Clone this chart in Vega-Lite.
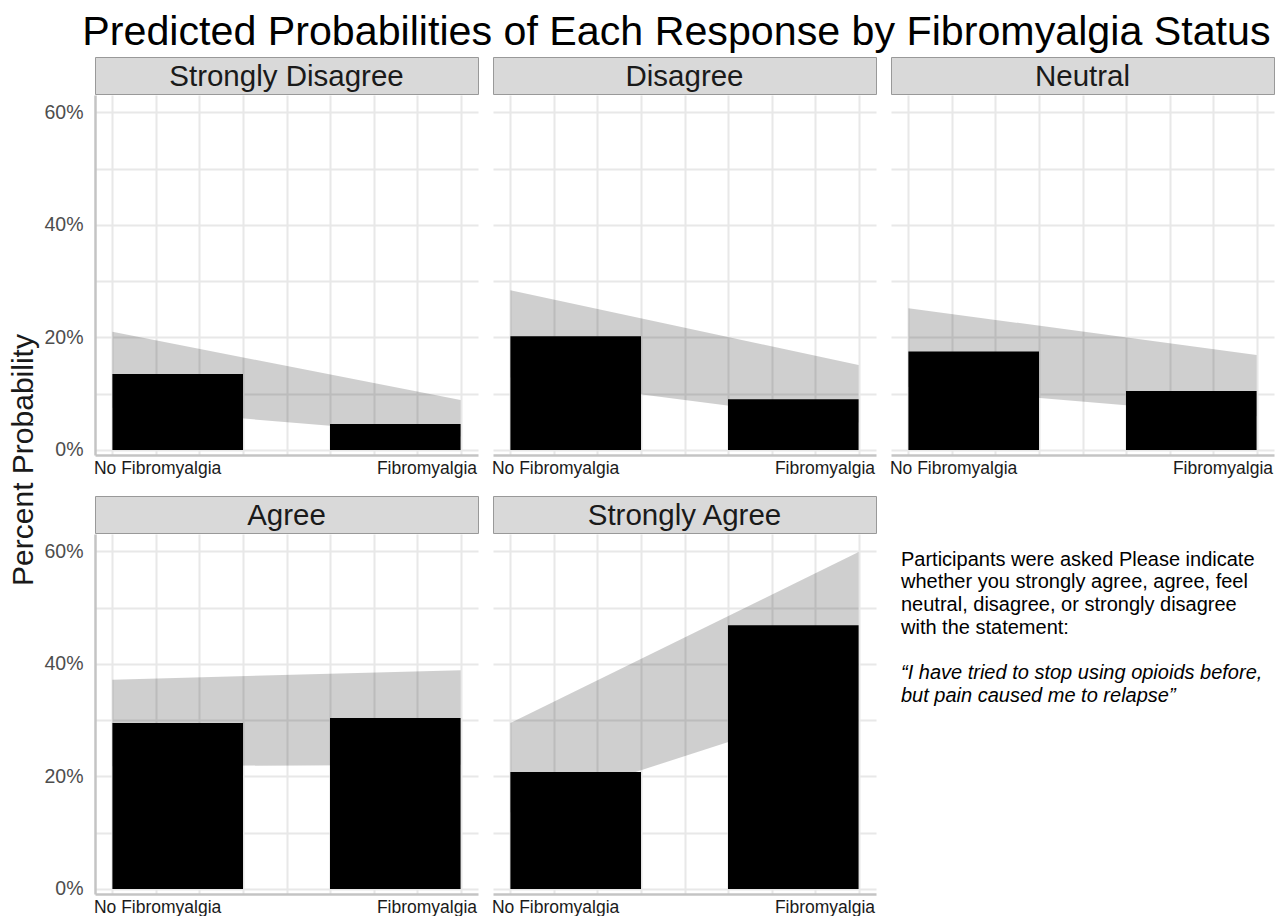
{
  "$schema": "https://vega.github.io/schema/vega-lite/v6.json",
  "padding": {"left": 9, "top": 11, "right": 3, "bottom": 0},
  "title": {"text": "Predicted Probabilities of Each Response by Fibromyalgia Status", "fontSize": 41.2, "fontWeight": "normal", "color": "#000000", "anchor": "end", "frame": "bounds", "offset": 3.5, "dx": -4},
  "datasets": {
    "probs": [
      {"response": "Strongly Disagree", "fibro": 0, "prob": 13.5, "lower": 7.5, "upper": 21.0},
      {"response": "Strongly Disagree", "fibro": 1, "prob": 4.6, "lower": 2.4, "upper": 8.9},
      {"response": "Disagree", "fibro": 0, "prob": 20.2, "lower": 12.9, "upper": 28.4},
      {"response": "Disagree", "fibro": 1, "prob": 9.0, "lower": 4.9, "upper": 15.1},
      {"response": "Neutral", "fibro": 0, "prob": 17.5, "lower": 11.2, "upper": 25.2},
      {"response": "Neutral", "fibro": 1, "prob": 10.5, "lower": 6.0, "upper": 16.9},
      {"response": "Agree", "fibro": 0, "prob": 29.5, "lower": 21.8, "upper": 37.2},
      {"response": "Agree", "fibro": 1, "prob": 30.4, "lower": 22.1, "upper": 38.9},
      {"response": "Strongly Agree", "fibro": 0, "prob": 20.8, "lower": 13.6, "upper": 29.5},
      {"response": "Strongly Agree", "fibro": 1, "prob": 46.9, "lower": 33.6, "upper": 59.9}
    ],
    "note": [
      {"part": "question", "line": 1, "text": "Participants were asked Please indicate"},
      {"part": "question", "line": 2, "text": "whether you strongly agree, agree, feel"},
      {"part": "question", "line": 3, "text": "neutral, disagree, or strongly disagree"},
      {"part": "question", "line": 4, "text": "with the statement:"},
      {"part": "statement", "line": 6, "text": "\u201cI have tried to stop using opioids before,"},
      {"part": "statement", "line": 7, "text": "but pain caused me to relapse\u201d"}
    ],
    "ytitle": [{"text": "Percent Probability"}]
  },
  "spacing": 4,
  "hconcat": [
    {
      "width": 30, "height": 806,
      "data": {"name": "ytitle"},
      "mark": {"type": "text", "angle": 270, "fontSize": 30, "color": "#1a1a1a", "align": "center", "baseline": "middle"},
      "encoding": {"text": {"field": "text"}}
    },
    {
      "columns": 3,
      "align": "each",
      "spacing": {"row": 18, "column": 12},
      "concat": [
        {
          "spacing": 0,
          "vconcat": [
            {"width": 383, "height": 37, "view": {"fill": "#d9d9d9", "stroke": "#999999", "strokeWidth": 1},
             "data": {"name": "probs"}, "transform": [{"filter": "datum.response == 'Strongly Disagree' && datum.fibro == 0"}],
             "mark": {"type": "text", "fontSize": 29.5, "color": "#1a1a1a", "baseline": "alphabetic", "dy": 10},
             "encoding": {"text": {"field": "response"}}},
            {"width": 383, "height": 360,
             "data": {"name": "probs"}, "transform": [{"filter": "datum.response == 'Strongly Disagree'"}],
             "encoding": {"x": {"field": "fibro", "type": "quantitative", "scale": {"domain": [-0.05, 1.05], "nice": false, "zero": false, "padding": 0},
               "axis": {"values": [0, 0.125, 0.25, 0.375, 0.5, 0.625, 0.75, 0.875, 1], "title": null, "labelExpr": "datum.value == 0 ? 'No Fibromyalgia' : datum.value == 1 ? 'Fibromyalgia' : ''", "labelAlign": {"condition": {"test": "datum.value < 0.5", "value": "left"}, "value": "right"}, "labelOffset": {"condition": {"test": "datum.value < 0.5", "value": -19}, "value": 16}, "labelFlush": false, "labelOverlap": false, "labelFontSize": 17.5, "labelColor": "#1a1a1a", "labelPadding": 4}}},
             "layer": [
               {"mark": {"type": "area", "color": "#000000", "opacity": 0.19},
                "encoding": {"y": {"field": "lower", "type": "quantitative", "scale": {"domain": [-0.9, 63.1], "nice": false, "zero": false},
                  "axis": {"values": [0, 10, 20, 30, 40, 50, 60], "title": null, "labelExpr": "datum.value % 20 == 0 ? datum.value + '%' : ''", "labelFontSize": 19.5, "labelColor": "#4d4d4d", "labelPadding": 12, "domain": true}},
                  "y2": {"field": "upper"}}},
               {"transform": [{"filter": "datum.fibro == 0"}], "mark": {"type": "bar", "color": "#000000", "width": 130.6, "xOffset": 65.3}, "encoding": {"y": {"field": "prob", "type": "quantitative"}}},
               {"transform": [{"filter": "datum.fibro == 1"}], "mark": {"type": "bar", "color": "#000000", "width": 130.6, "xOffset": -65.3}, "encoding": {"y": {"field": "prob", "type": "quantitative"}}}
             ]}
          ]
        },
        {
          "spacing": 0,
          "vconcat": [
            {"width": 383, "height": 37, "view": {"fill": "#d9d9d9", "stroke": "#999999", "strokeWidth": 1},
             "data": {"name": "probs"}, "transform": [{"filter": "datum.response == 'Disagree' && datum.fibro == 0"}],
             "mark": {"type": "text", "fontSize": 29.5, "color": "#1a1a1a", "baseline": "alphabetic", "dy": 10},
             "encoding": {"text": {"field": "response"}}},
            {"width": 383, "height": 360,
             "data": {"name": "probs"}, "transform": [{"filter": "datum.response == 'Disagree'"}],
             "encoding": {"x": {"field": "fibro", "type": "quantitative", "scale": {"domain": [-0.05, 1.05], "nice": false, "zero": false, "padding": 0},
               "axis": {"values": [0, 0.125, 0.25, 0.375, 0.5, 0.625, 0.75, 0.875, 1], "title": null, "labelExpr": "datum.value == 0 ? 'No Fibromyalgia' : datum.value == 1 ? 'Fibromyalgia' : ''", "labelAlign": {"condition": {"test": "datum.value < 0.5", "value": "left"}, "value": "right"}, "labelOffset": {"condition": {"test": "datum.value < 0.5", "value": -19}, "value": 16}, "labelFlush": false, "labelOverlap": false, "labelFontSize": 17.5, "labelColor": "#1a1a1a", "labelPadding": 4}}},
             "layer": [
               {"mark": {"type": "area", "color": "#000000", "opacity": 0.19},
                "encoding": {"y": {"field": "lower", "type": "quantitative", "scale": {"domain": [-0.9, 63.1], "nice": false, "zero": false},
                  "axis": {"values": [0, 10, 20, 30, 40, 50, 60], "title": null, "labels": false, "domain": false}},
                  "y2": {"field": "upper"}}},
               {"transform": [{"filter": "datum.fibro == 0"}], "mark": {"type": "bar", "color": "#000000", "width": 130.6, "xOffset": 65.3}, "encoding": {"y": {"field": "prob", "type": "quantitative"}}},
               {"transform": [{"filter": "datum.fibro == 1"}], "mark": {"type": "bar", "color": "#000000", "width": 130.6, "xOffset": -65.3}, "encoding": {"y": {"field": "prob", "type": "quantitative"}}}
             ]}
          ]
        },
        {
          "spacing": 0,
          "vconcat": [
            {"width": 383, "height": 37, "view": {"fill": "#d9d9d9", "stroke": "#999999", "strokeWidth": 1},
             "data": {"name": "probs"}, "transform": [{"filter": "datum.response == 'Neutral' && datum.fibro == 0"}],
             "mark": {"type": "text", "fontSize": 29.5, "color": "#1a1a1a", "baseline": "alphabetic", "dy": 10},
             "encoding": {"text": {"field": "response"}}},
            {"width": 383, "height": 360,
             "data": {"name": "probs"}, "transform": [{"filter": "datum.response == 'Neutral'"}],
             "encoding": {"x": {"field": "fibro", "type": "quantitative", "scale": {"domain": [-0.05, 1.05], "nice": false, "zero": false, "padding": 0},
               "axis": {"values": [0, 0.125, 0.25, 0.375, 0.5, 0.625, 0.75, 0.875, 1], "title": null, "labelExpr": "datum.value == 0 ? 'No Fibromyalgia' : datum.value == 1 ? 'Fibromyalgia' : ''", "labelAlign": {"condition": {"test": "datum.value < 0.5", "value": "left"}, "value": "right"}, "labelOffset": {"condition": {"test": "datum.value < 0.5", "value": -19}, "value": 16}, "labelFlush": false, "labelOverlap": false, "labelFontSize": 17.5, "labelColor": "#1a1a1a", "labelPadding": 4}}},
             "layer": [
               {"mark": {"type": "area", "color": "#000000", "opacity": 0.19},
                "encoding": {"y": {"field": "lower", "type": "quantitative", "scale": {"domain": [-0.9, 63.1], "nice": false, "zero": false},
                  "axis": {"values": [0, 10, 20, 30, 40, 50, 60], "title": null, "labels": false, "domain": false}},
                  "y2": {"field": "upper"}}},
               {"transform": [{"filter": "datum.fibro == 0"}], "mark": {"type": "bar", "color": "#000000", "width": 130.6, "xOffset": 65.3}, "encoding": {"y": {"field": "prob", "type": "quantitative"}}},
               {"transform": [{"filter": "datum.fibro == 1"}], "mark": {"type": "bar", "color": "#000000", "width": 130.6, "xOffset": -65.3}, "encoding": {"y": {"field": "prob", "type": "quantitative"}}}
             ]}
          ]
        },
        {
          "spacing": 0,
          "vconcat": [
            {"width": 383, "height": 37, "view": {"fill": "#d9d9d9", "stroke": "#999999", "strokeWidth": 1},
             "data": {"name": "probs"}, "transform": [{"filter": "datum.response == 'Agree' && datum.fibro == 0"}],
             "mark": {"type": "text", "fontSize": 29.5, "color": "#1a1a1a", "baseline": "alphabetic", "dy": 10},
             "encoding": {"text": {"field": "response"}}},
            {"width": 383, "height": 360,
             "data": {"name": "probs"}, "transform": [{"filter": "datum.response == 'Agree'"}],
             "encoding": {"x": {"field": "fibro", "type": "quantitative", "scale": {"domain": [-0.05, 1.05], "nice": false, "zero": false, "padding": 0},
               "axis": {"values": [0, 0.125, 0.25, 0.375, 0.5, 0.625, 0.75, 0.875, 1], "title": null, "labelExpr": "datum.value == 0 ? 'No Fibromyalgia' : datum.value == 1 ? 'Fibromyalgia' : ''", "labelAlign": {"condition": {"test": "datum.value < 0.5", "value": "left"}, "value": "right"}, "labelOffset": {"condition": {"test": "datum.value < 0.5", "value": -19}, "value": 16}, "labelFlush": false, "labelOverlap": false, "labelFontSize": 17.5, "labelColor": "#1a1a1a", "labelPadding": 4}}},
             "layer": [
               {"mark": {"type": "area", "color": "#000000", "opacity": 0.19},
                "encoding": {"y": {"field": "lower", "type": "quantitative", "scale": {"domain": [-0.9, 63.1], "nice": false, "zero": false},
                  "axis": {"values": [0, 10, 20, 30, 40, 50, 60], "title": null, "labelExpr": "datum.value % 20 == 0 ? datum.value + '%' : ''", "labelFontSize": 19.5, "labelColor": "#4d4d4d", "labelPadding": 12, "domain": true}},
                  "y2": {"field": "upper"}}},
               {"transform": [{"filter": "datum.fibro == 0"}], "mark": {"type": "bar", "color": "#000000", "width": 130.6, "xOffset": 65.3}, "encoding": {"y": {"field": "prob", "type": "quantitative"}}},
               {"transform": [{"filter": "datum.fibro == 1"}], "mark": {"type": "bar", "color": "#000000", "width": 130.6, "xOffset": -65.3}, "encoding": {"y": {"field": "prob", "type": "quantitative"}}}
             ]}
          ]
        },
        {
          "spacing": 0,
          "vconcat": [
            {"width": 383, "height": 37, "view": {"fill": "#d9d9d9", "stroke": "#999999", "strokeWidth": 1},
             "data": {"name": "probs"}, "transform": [{"filter": "datum.response == 'Strongly Agree' && datum.fibro == 0"}],
             "mark": {"type": "text", "fontSize": 29.5, "color": "#1a1a1a", "baseline": "alphabetic", "dy": 10},
             "encoding": {"text": {"field": "response"}}},
            {"width": 383, "height": 360,
             "data": {"name": "probs"}, "transform": [{"filter": "datum.response == 'Strongly Agree'"}],
             "encoding": {"x": {"field": "fibro", "type": "quantitative", "scale": {"domain": [-0.05, 1.05], "nice": false, "zero": false, "padding": 0},
               "axis": {"values": [0, 0.125, 0.25, 0.375, 0.5, 0.625, 0.75, 0.875, 1], "title": null, "labelExpr": "datum.value == 0 ? 'No Fibromyalgia' : datum.value == 1 ? 'Fibromyalgia' : ''", "labelAlign": {"condition": {"test": "datum.value < 0.5", "value": "left"}, "value": "right"}, "labelOffset": {"condition": {"test": "datum.value < 0.5", "value": -19}, "value": 16}, "labelFlush": false, "labelOverlap": false, "labelFontSize": 17.5, "labelColor": "#1a1a1a", "labelPadding": 4}}},
             "layer": [
               {"mark": {"type": "area", "color": "#000000", "opacity": 0.19},
                "encoding": {"y": {"field": "lower", "type": "quantitative", "scale": {"domain": [-0.9, 63.1], "nice": false, "zero": false},
                  "axis": {"values": [0, 10, 20, 30, 40, 50, 60], "title": null, "labels": false, "domain": false}},
                  "y2": {"field": "upper"}}},
               {"transform": [{"filter": "datum.fibro == 0"}], "mark": {"type": "bar", "color": "#000000", "width": 130.6, "xOffset": 65.3}, "encoding": {"y": {"field": "prob", "type": "quantitative"}}},
               {"transform": [{"filter": "datum.fibro == 1"}], "mark": {"type": "bar", "color": "#000000", "width": 130.6, "xOffset": -65.3}, "encoding": {"y": {"field": "prob", "type": "quantitative"}}}
             ]}
          ]
        },
        {
          "width": 383, "height": 397,
          "data": {"name": "note"},
          "encoding": {
            "x": {"datum": 0, "type": "quantitative", "scale": {"domain": [0, 1]}, "axis": null},
            "y": {"field": "line", "type": "quantitative", "scale": {"domain": [-1.8, 15.7], "reverse": true, "nice": false, "zero": false}, "axis": null},
            "text": {"field": "text"}
          },
          "layer": [
            {"transform": [{"filter": "datum.part == 'question'"}], "mark": {"type": "text", "align": "left", "baseline": "middle", "fontSize": 20, "color": "#000000", "dx": 10}},
            {"transform": [{"filter": "datum.part == 'statement'"}], "mark": {"type": "text", "align": "left", "baseline": "middle", "fontSize": 20, "fontStyle": "italic", "color": "#000000", "dx": 10}}
          ]
        }
      ]
    }
  ],
  "config": {
    "font": "Liberation Sans",
    "view": {"stroke": null},
    "axis": {"ticks": false, "tickSize": 0, "grid": true, "gridColor": "#e8e8e8", "gridWidth": 2, "domainColor": "#c4c4c4", "domainWidth": 2.5, "labelFont": "Liberation Sans"}
  }
}
